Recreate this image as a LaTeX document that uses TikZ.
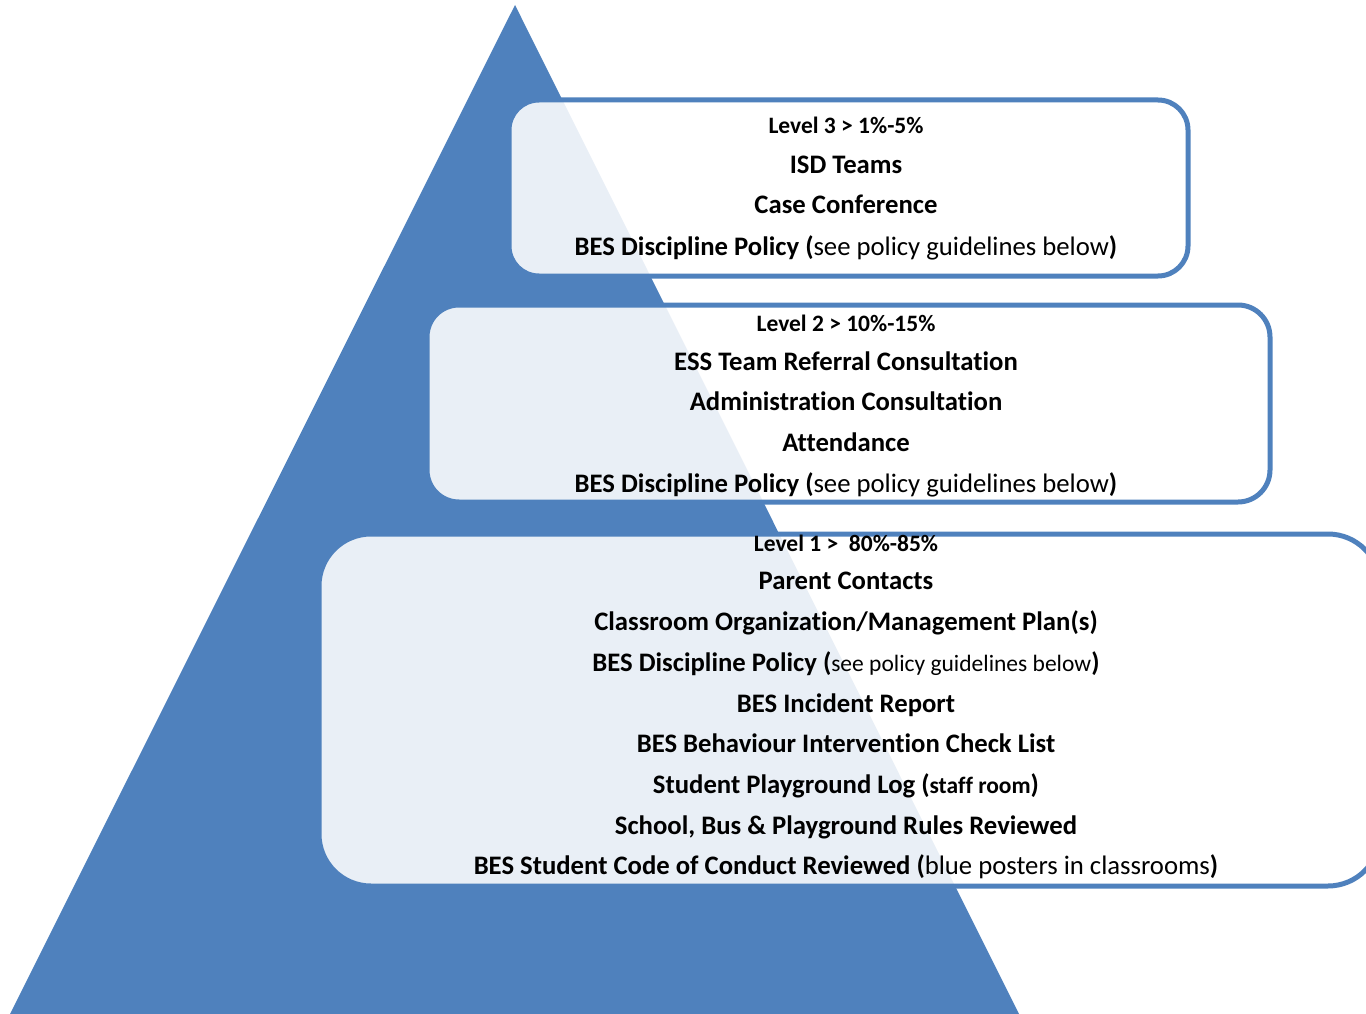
\documentclass[tikz,border=0pt]{standalone}
\usepackage{fontspec}
\setmainfont{Carlito}[Ligatures={TeX,NoCommon}]
\usetikzlibrary{positioning}
\definecolor{pyrblue}{HTML}{4F81BD}
\newcommand{\smalltxt}{\fontsize{23.5}{28}\selectfont}

\begin{document}
\begin{tikzpicture}[x=1pt, y=-1pt,
  tierbox/.style={rectangle, draw=pyrblue, line width=5pt, fill=white, fill opacity=0.88, draw opacity=1, inner sep=0pt},
  itemline/.style={anchor=base, inner sep=0pt, font=\fontsize{26.7}{32}\selectfont\bfseries},
  levelline/.style={anchor=base, inner sep=0pt, font=\smalltxt\bfseries},
  ]
  \useasboundingbox (0,0) rectangle (1366,1014);
  \clip (0,0) rectangle (1366,1014);
  %pyramid
  \fill[pyrblue] (515,5) -- (1019,1014) -- (10,1014) -- cycle;

  %boxes
  \node[tierbox, rounded corners=30pt, minimum width=679pt, minimum height=176pt] (levelthree) at (848.5,188) {};
  \node[tierbox, rounded corners=32pt, minimum width=843pt, minimum height=197pt] (leveltwo) at (848.5,403.5) {};
  \node[tierbox, rounded corners=52pt, minimum width=1061pt, minimum height=352pt] (levelone) at (849.5,710) {};

  %level 3
  \node[levelline] (l3a) at (846,134) {Level 3 > 1\%-5\%};
  \node[itemline] (l3b) at (846,174) {ISD Teams};
  \node[itemline] (l3c) at (846,214) {Case Conference};
  \node[itemline] (l3d) at (846,255) {BES Discipline Policy ({\mdseries see policy guidelines below})};

  %level 2
  \node[levelline] (l2a) at (846,331) {Level 2 > 10\%-15\%};
  \node[itemline] (l2b) at (846,370) {ESS Team Referral Consultation};
  \node[itemline] (l2c) at (846,410) {Administration Consultation};
  \node[itemline] (l2d) at (846,451) {Attendance};
  \node[itemline] (l2e) at (846,492) {BES Discipline Policy ({\mdseries see policy guidelines below})};

  %level 1
  \node[levelline] (l1a) at (846,551) {Level 1 >\ \ 80\%-85\%};
  \node[itemline] (l1b) at (846,589) {Parent Contacts};
  \node[itemline] (l1c) at (846,630) {Classroom Organization/Management Plan(s)};
  \node[itemline] (l1d) at (846,671) {BES Discipline Policy ({\smalltxt\mdseries see policy guidelines below})};
  \node[itemline] (l1e) at (846,712) {BES Incident Report};
  \node[itemline] (l1f) at (846,752) {BES Behaviour Intervention Check List};
  \node[itemline] (l1g) at (846,793) {Student Playground Log ({\smalltxt staff room})};
  \node[itemline] (l1h) at (846,834) {School, Bus \& Playground Rules Reviewed};
  \node[itemline] (l1i) at (846,874) {BES Student Code of Conduct Reviewed ({\mdseries blue posters in classrooms})};
\end{tikzpicture}
\end{document}
